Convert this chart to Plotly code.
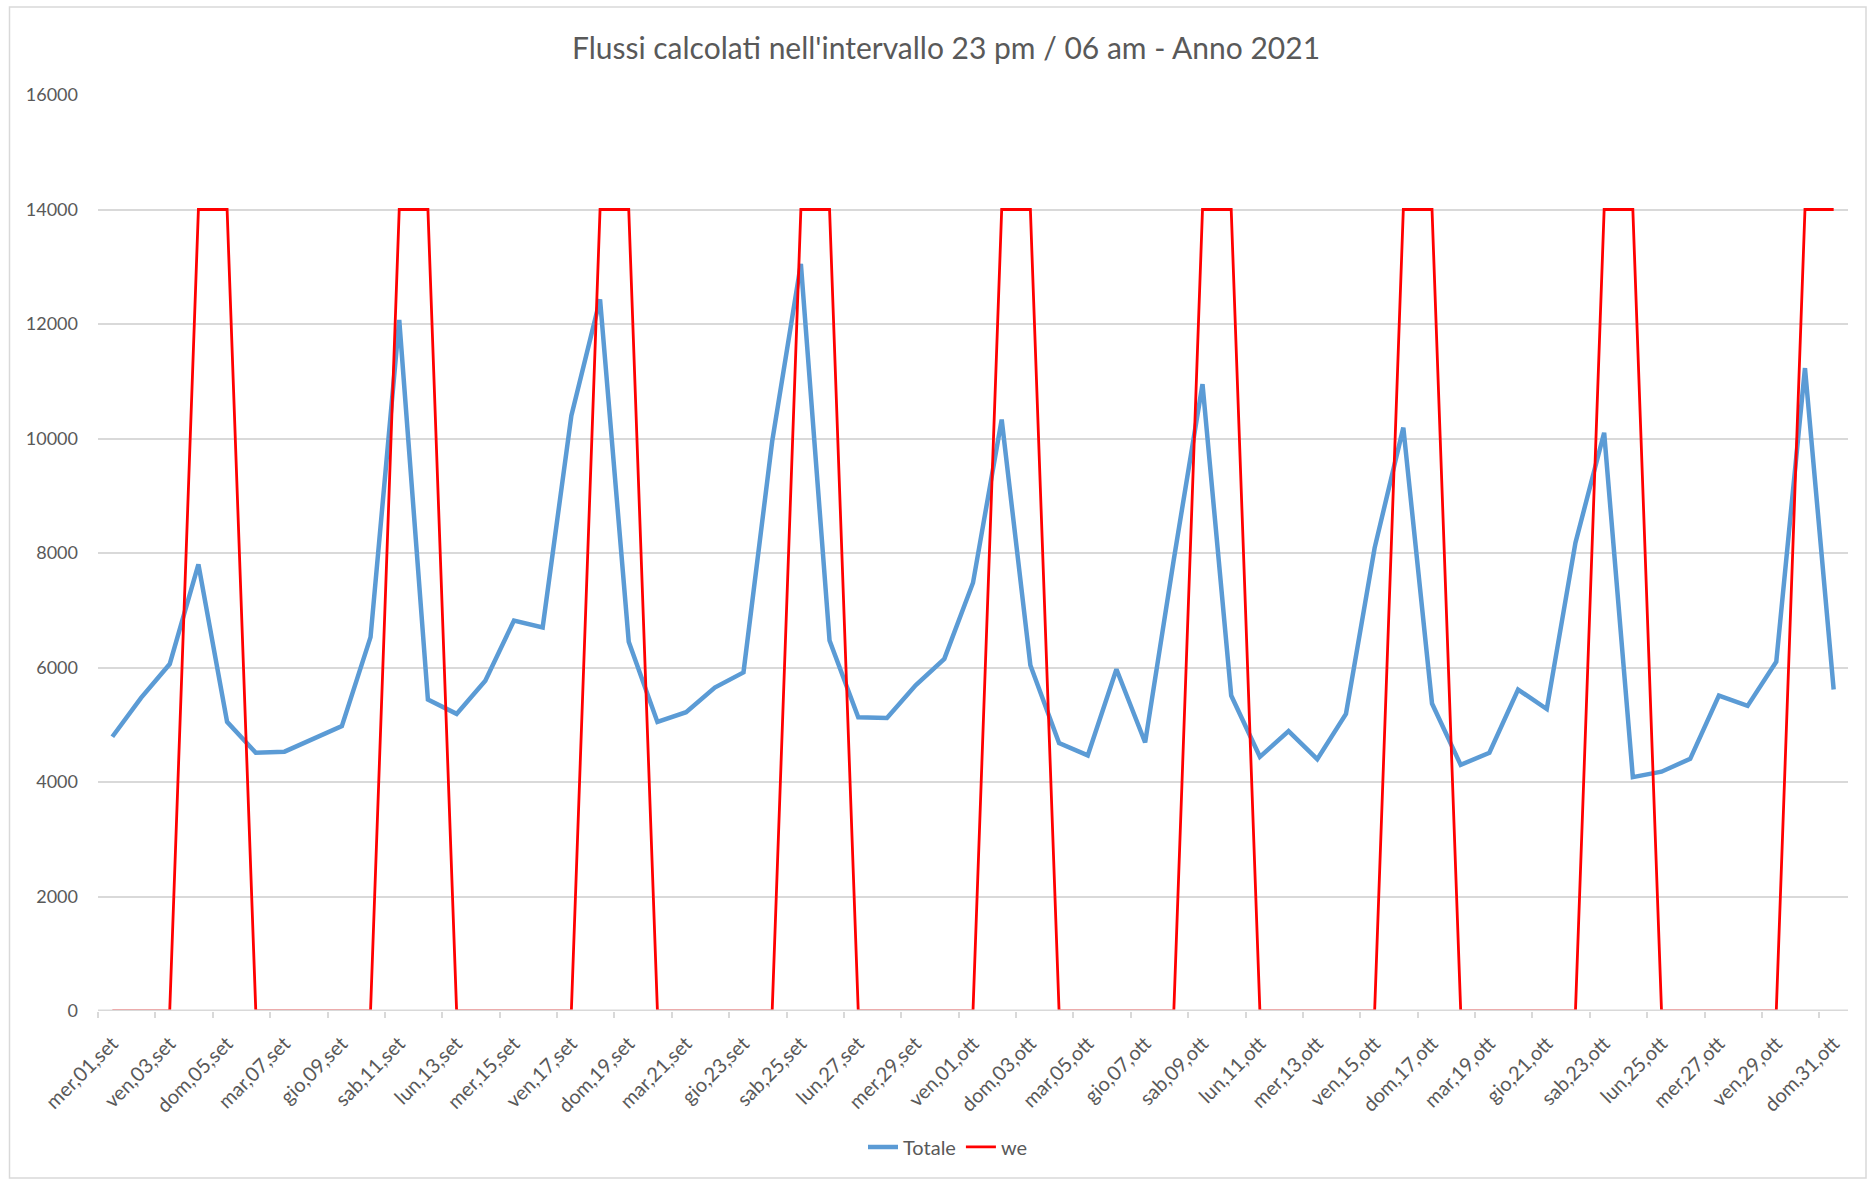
import plotly.graph_objects as go

categories = [
    "mer,01,set", "gio,02,set", "ven,03,set", "sab,04,set", "dom,05,set", "lun,06,set", "mar,07,set",
    "mer,08,set", "gio,09,set", "ven,10,set", "sab,11,set", "dom,12,set", "lun,13,set", "mar,14,set",
    "mer,15,set", "gio,16,set", "ven,17,set", "sab,18,set", "dom,19,set", "lun,20,set", "mar,21,set",
    "mer,22,set", "gio,23,set", "ven,24,set", "sab,25,set", "dom,26,set", "lun,27,set", "mar,28,set",
    "mer,29,set", "gio,30,set", "ven,01,ott", "sab,02,ott", "dom,03,ott", "lun,04,ott", "mar,05,ott",
    "mer,06,ott", "gio,07,ott", "ven,08,ott", "sab,09,ott", "dom,10,ott", "lun,11,ott", "mar,12,ott",
    "mer,13,ott", "gio,14,ott", "ven,15,ott", "sab,16,ott", "dom,17,ott", "lun,18,ott", "mar,19,ott",
    "mer,20,ott", "gio,21,ott", "ven,22,ott", "sab,23,ott", "dom,24,ott", "lun,25,ott", "mar,26,ott",
    "mer,27,ott", "gio,28,ott", "ven,29,ott", "sab,30,ott", "dom,31,ott",
]

totale = [
    4790, 5470, 6060, 7800, 5050, 4510, 4530, 4760, 4975, 6530,
    12070, 5440, 5190, 5770, 6820, 6700, 10400, 12430, 6450, 5050,
    5220, 5650, 5915, 9950, 13050, 6470, 5130, 5120, 5690, 6150,
    7480, 10330, 6040, 4680, 4465, 5970, 4690, 7890, 10950, 5510,
    4440, 4890, 4400, 5190, 8090, 10190, 5370, 4300, 4510, 5615,
    5275, 8180, 10100, 4085, 4180, 4405, 5510, 5330, 6100, 11230,
    5615,
]

we = [
    0, 0, 0, 14000, 14000, 0, 0, 0, 0, 0,
    14000, 14000, 0, 0, 0, 0, 0, 14000, 14000, 0,
    0, 0, 0, 0, 14000, 14000, 0, 0, 0, 0,
    0, 14000, 14000, 0, 0, 0, 0, 0, 14000, 14000,
    0, 0, 0, 0, 0, 14000, 14000, 0, 0, 0,
    0, 0, 14000, 14000, 0, 0, 0, 0, 0, 14000,
    14000,
]

y_ticks = [0, 2000, 4000, 6000, 8000, 10000, 12000, 14000, 16000]

W, H = 1876, 1180
L, R, T, B = 98, 28, 94.5, 169
pw = W - L - R
ph = H - T - B

def px(x):
    return (x - L) / pw

def py(y):
    return (H - B - y) / ph

xs = list(range(len(categories)))
text_color = "#595959"
grid_color = "#D9D9D9"
font_family = "Lato, 'Liberation Sans', sans-serif"

fig = go.Figure()
fig.add_trace(go.Scatter(
    x=xs, y=totale, mode="lines", name="Totale",
    line=dict(color="#5B9BD5", width=4.5),
))
fig.add_trace(go.Scatter(
    x=xs, y=we, mode="lines", name="we",
    line=dict(color="#FF0000", width=2.8),
))

fig.update_layout(
    width=W, height=H,
    margin=dict(l=L, r=R, t=T, b=B),
    paper_bgcolor="white",
    plot_bgcolor="white",
    font=dict(family=font_family, color=text_color, size=18),
    title=dict(
        text="Flussi calcolati nell'intervallo 23 pm / 06 am - Anno 2021",
        xref="container", x=946 / W, xanchor="center",
        yref="container", y=1 - 48 / H, yanchor="middle",
        font=dict(size=30, color=text_color, family=font_family),
    ),
    showlegend=True,
    legend=dict(
        orientation="h", xanchor="center", x=px(948),
        yanchor="middle", y=py(1147),
        font=dict(size=20, color=text_color),
        bgcolor="rgba(0,0,0,0)",
    ),
    xaxis=dict(
        range=[-0.5, len(categories) - 0.5],
        tickmode="array",
        tickvals=xs[::2],
        ticktext=categories[::2],
        tickangle=-45,
        ticks="",
        ticklabelstandoff=16,
        showgrid=False,
        zeroline=False,
        showline=False,
        tickfont=dict(size=20, color=text_color),
        minor=dict(tickmode="linear", tick0=-0.5, dtick=2, ticks="outside",
                   ticklen=6, tickcolor=grid_color, tickwidth=1.5, showgrid=False),
    ),
    yaxis=dict(
        range=[0, 16000],
        tickmode="array",
        tickvals=y_ticks,
        ticktext=[str(v) for v in y_ticks],
        showgrid=True,
        gridcolor=grid_color,
        gridwidth=1.5,
        zeroline=False,
        showline=False,
        ticks="",
        ticklabelstandoff=19,
        tickfont=dict(size=18, color=text_color),
    ),
    shapes=[
        dict(
            type="rect", xref="paper", yref="paper",
            x0=px(9.5), x1=px(1866), y0=py(1178), y1=py(6.5),
            line=dict(color=grid_color, width=1.5), fillcolor="rgba(0,0,0,0)",
            layer="below",
        ),
        dict(
            type="line", xref="paper", yref="y",
            x0=0, x1=1, y0=0, y1=0,
            line=dict(color=grid_color, width=3),
            layer="above",
        ),
    ],
)

fig.write_html("out.html", config={"displayModeBar": False},
               post_script="document.body.style.margin='0';")
